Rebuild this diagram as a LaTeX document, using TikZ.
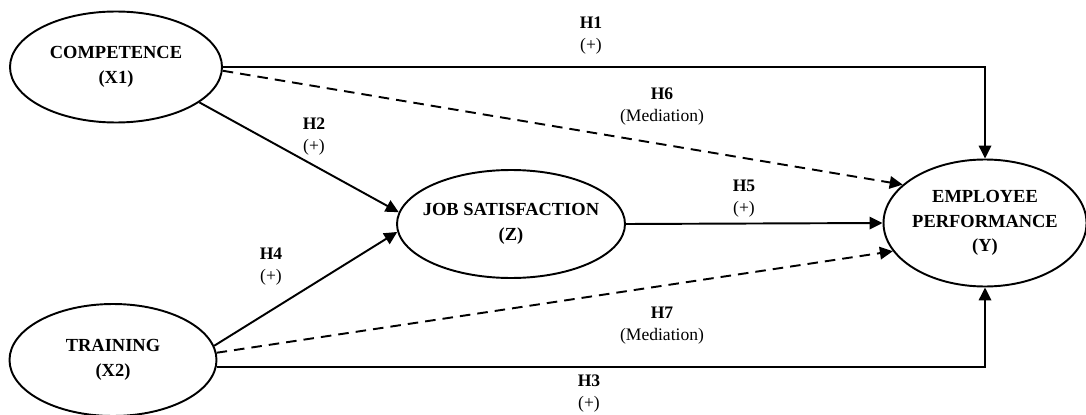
\documentclass[tikz,border=0pt]{standalone}
\usepackage{fontspec}
\setmainfont{Liberation Serif}
\usetikzlibrary{shapes,arrows.meta,positioning}

\begin{document}
\begin{tikzpicture}[
    construct/.style={ellipse,draw,line width=1.1pt,inner xsep=-0.3cm,inner ysep=0pt,align=center,font=\fontsize{10.5}{14}\selectfont\bfseries},
    hyp/.style={align=center,font=\fontsize{10}{12.5}\selectfont},
    arrow/.style={-{Triangle[length=2.6mm,width=2.5mm]},line width=1.1pt},
    mediation/.style={arrow,dash pattern=on 6pt off 4pt}]
    \useasboundingbox (0,0) rectangle (21.72,8.28);
    % constructs
    \node[construct,minimum width=4.24cm,minimum height=2.22cm] (comp) at (2.32,6.94) {COMPETENCE\\(X1)};
    \node[construct,minimum width=4.14cm,minimum height=2.24cm] (train) at (2.26,1.08) {TRAINING\\(X2)};
    \node[construct,minimum width=4.56cm,minimum height=2.16cm] (jobsat) at (10.22,3.80) {JOB SATISFACTION\\(Z)};
    \node[construct,minimum width=4.06cm,minimum height=2.54cm] (perf) at (19.70,3.82) {EMPLOYEE\\PERFORMANCE\\(Y)};
    % direct paths
    \draw[arrow] (comp.east) -| (perf.north);
    \draw[arrow] (train.-4) -| (perf.south);
    \draw[arrow] (comp.-23) -- (jobsat.174);
    \draw[arrow] (train.8) -- (jobsat.184);
    \draw[arrow] (jobsat.east) -- (perf.west);
    % mediated paths
    \draw[mediation] (comp.-2) -- (perf.155);
    \draw[mediation] (train.4) -- (perf.197);
    % hypothesis labels
    \node[hyp] (h1) at (11.82,7.56) {\textbf{H1}\\(+)};
    \node[hyp] (h2) at (6.28,5.54) {\textbf{H2}\\(+)};
    \node[hyp] (h3) at (11.78,0.40) {\textbf{H3}\\(+)};
    \node[hyp] (h4) at (5.42,2.94) {\textbf{H4}\\(+)};
    \node[hyp] (h5) at (14.88,4.30) {\textbf{H5}\\(+)};
    \node[hyp] (h6) at (13.24,6.14) {\textbf{H6}\\(Mediation)};
    \node[hyp] (h7) at (13.24,1.76) {\textbf{H7}\\(Mediation)};
\end{tikzpicture}
\end{document}
